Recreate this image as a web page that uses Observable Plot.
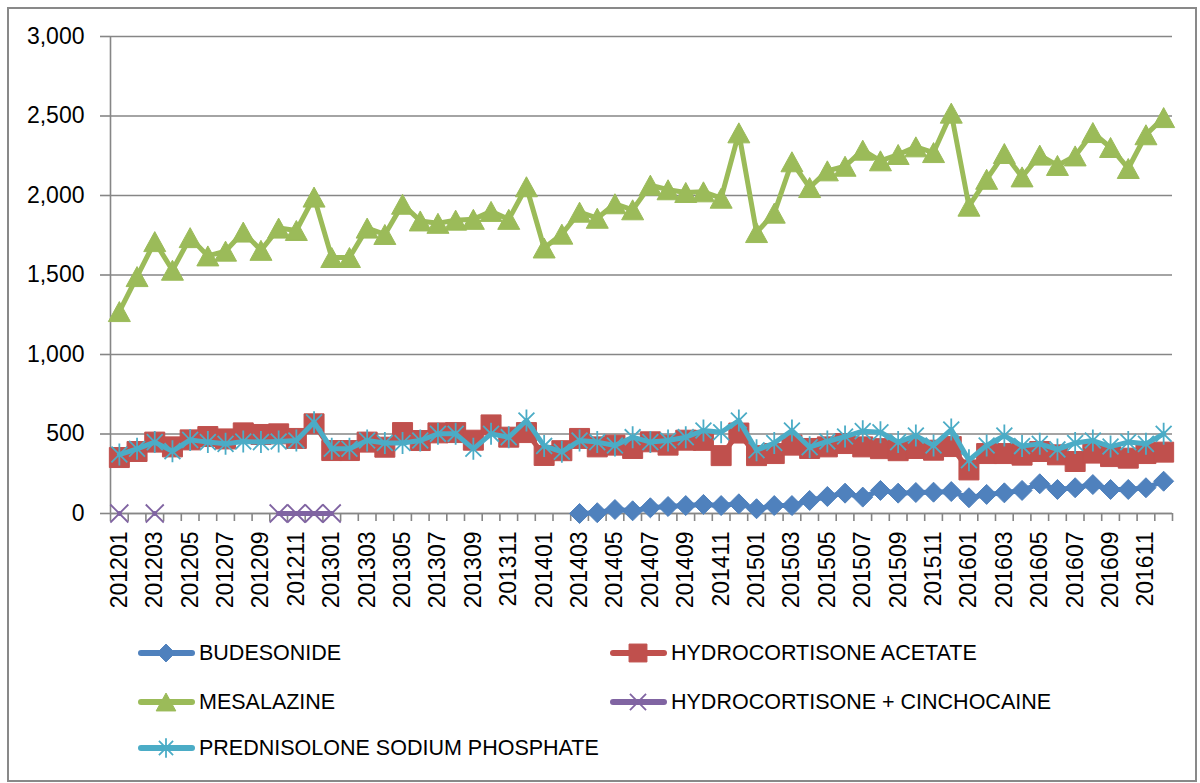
<!DOCTYPE html>
<html><head><meta charset="utf-8">
<script src="https://cdn.jsdelivr.net/npm/d3@7"></script>
<script src="https://cdn.jsdelivr.net/npm/@observablehq/plot@0.6"></script>
<style>
body{margin:0;background:#fff;font-family:"Liberation Sans",Arial,sans-serif;width:1200px;height:783px;overflow:hidden;position:relative;}
#frame{position:absolute;left:7px;top:7px;width:1190px;height:775px;border:2px solid #898989;box-sizing:border-box;}
#chart{position:absolute;left:0;top:0;}
.item{position:absolute;display:flex;align-items:center;font-size:21.5px;color:#000;height:30px;}
.item svg{display:block;margin-right:4px;}
</style></head><body>
<div id="frame"></div>
<div id="chart"></div>
<div id="legend"></div>
<script>
const months = ["201201","201202","201203","201204","201205","201206","201207","201208","201209","201210","201211","201212",
"201301","201302","201303","201304","201305","201306","201307","201308","201309","201310","201311","201312",
"201401","201402","201403","201404","201405","201406","201407","201408","201409","201410","201411","201412",
"201501","201502","201503","201504","201505","201506","201507","201508","201509","201510","201511","201512",
"201601","201602","201603","201604","201605","201606","201607","201608","201609","201610","201611","201612"];

const budesonide = [null,null,null,null,null,null,null,null,null,null,null,null,
null,null,null,null,null,null,null,null,null,null,null,null,
null,null,0,5,25,17,36,44,50,57,50,61,
30,50,50,82,107,128,103,145,128,132,134,138,
99,120,130,145,187,151,162,182,151,151,162,203];

const hydrocortisoneAcetate = [352,390,449,419,463,484,469,507,497,501,472,564,
396,396,449,417,509,459,507,509,461,557,480,509,
365,395,472,419,430,409,451,430,461,460,364,506,
364,377,430,409,419,440,419,408,395,409,398,421,
274,377,377,367,390,369,327,380,358,348,377,386];

const mesalazine = [1270,1490,1710,1530,1735,1620,1650,1770,1655,1795,1780,1990,
1610,1610,1795,1755,1945,1840,1825,1845,1850,1900,1850,2055,
1670,1757,1895,1857,1948,1910,2065,2036,2019,2023,1983,2394,
1767,1889,2212,2050,2155,2184,2285,2218,2258,2306,2270,2518,
1933,2102,2264,2117,2254,2189,2249,2396,2302,2170,2382,2490];

const hydrocortisoneCinchocaine = [0,null,0,null,null,null,null,null,null,0,0,0,
0,null,null,null,null,null,null,null,null,null,null,null,
null,null,null,null,null,null,null,null,null,null,null,null,
null,null,null,null,null,null,null,null,null,null,null,null,
null,null,null,null,null,null,null,null,null,null,null,null];

const prednisolone = [371,407,449,392,463,449,438,453,449,453,459,574,
407,407,459,443,443,459,501,501,407,501,480,585,
425,388,459,449,428,480,449,459,480,522,511,585,
398,443,522,417,453,484,518,511,449,490,428,528,
335,428,490,424,438,403,443,459,421,449,438,501];

const yTicks = [0,500,1000,1500,2000,2500,3000];

const seriesNames = ["BUDESONIDE","HYDROCORTISONE ACETATE","MESALAZINE","HYDROCORTISONE + CINCHOCAINE","PREDNISOLONE SODIUM PHOSPHATE"];
const seriesColors = ["#4F81BD","#C0504D","#9BBB59","#8064A2","#4BACC6"];
const seriesValues = [budesonide, hydrocortisoneAcetate, mesalazine, hydrocortisoneCinchocaine, prednisolone];

// custom marker shapes (Excel-like)
const symTriangle = {draw(c, size){const r=Math.sqrt(size/Math.PI); c.moveTo(0,-r); c.lineTo(r*1.1,r); c.lineTo(-r*1.1,r); c.closePath();}};
const symSquare = {draw(c, size){const r=Math.sqrt(size/Math.PI); c.rect(-r,-r,2*r,2*r);}};
const symDiamond = {draw(c, size){const r=Math.sqrt(size/Math.PI); c.moveTo(0,-r); c.lineTo(r,0); c.lineTo(0,r); c.lineTo(-r,0); c.closePath();}};
const symAsterisk = {draw(c, size){const r=Math.sqrt(size/Math.PI); const d=r*0.72; c.moveTo(0,-r); c.lineTo(0,r); c.moveTo(-d,-d); c.lineTo(d,d); c.moveTo(-d,d); c.lineTo(d,-d);}};
const symTimes = {draw(c, size){const r=Math.sqrt(size/Math.PI); c.moveTo(-r,-r); c.lineTo(r,r); c.moveTo(-r,r); c.lineTo(r,-r);}};
const seriesSymbols = [symDiamond, symSquare, symTriangle, symTimes, symAsterisk];
const seriesFilled = [true, true, true, false, false];
const seriesR = [10, 10, 10, 9, 11];

const rows = seriesNames.map((name, s) => seriesValues[s].map((v, i) => ({i, month: months[i], value: v, series: name})));

const marks = [
  Plot.gridY(yTicks, {stroke: "#868686", strokeOpacity: 1, strokeWidth: 1.6}),
  Plot.ruleX([-0.5], {stroke: "#868686", strokeWidth: 1.6}),
  Plot.ruleY([0], {stroke: "#868686", strokeWidth: 1.6}),
  Plot.axisY({ticks: yTicks, tickFormat: d3.format(","), tickSize: 10, tickPadding: 16, stroke: "#868686", strokeWidth: 1.6, fill: "#000", fontSize: 23, label: null}),
  Plot.axisX({ticks: d3.range(-0.5, 60, 1), tickFormat: () => "", tickSize: 8, stroke: "#868686", strokeWidth: 1.6, label: null}),
  Plot.axisX({ticks: d3.range(0, 60, 2), tickFormat: i => months[i], tickSize: 0, tickPadding: 18, tickRotate: -90, fill: "#000", fontSize: 23, label: null})
];
seriesNames.forEach((name, s) => {
  const data = rows[s];
  marks.push(Plot.line(data, {x: "i", y: "value", stroke: seriesColors[s], strokeWidth: 5, strokeLinejoin: "round", strokeLinecap: "round"}));
  const defined = data.filter(d => d.value != null);
  if (seriesFilled[s]) {
    marks.push(Plot.dot(defined, {x: "i", y: "value", r: seriesR[s], symbol: seriesSymbols[s], fill: seriesColors[s], stroke: seriesColors[s], strokeWidth: 1}));
  } else {
    marks.push(Plot.dot(defined, {x: "i", y: "value", r: seriesR[s], symbol: seriesSymbols[s], fill: "none", stroke: seriesColors[s], strokeWidth: 1.8}));
  }
});

const chart = Plot.plot({
  width: 1200,
  height: 625,
  marginLeft: 110,
  marginRight: 28,
  marginTop: 36,
  marginBottom: 112,
  x: {type: "linear", domain: [-0.5, 59.5], label: null},
  y: {domain: [0, 3000], label: null},
  style: {fontFamily: "Liberation Sans, Arial, sans-serif", fontSize: "23px", background: "transparent", color: "#000"},
  marks
});
document.getElementById("chart").appendChild(chart);

// legend
const legendPos = [[138, 653], [610, 653], [138, 702], [610, 702], [138, 748]];
const legend = document.getElementById("legend");
seriesNames.forEach((name, s) => {
  const [lx, ly] = legendPos[s];
  const div = document.createElement("div");
  div.className = "item";
  div.style.left = lx + "px";
  div.style.top = (ly - 15) + "px";
  const svg = d3.create("svg").attr("width", 57).attr("height", 30);
  svg.append("line").attr("x1", 3).attr("x2", 54).attr("y1", 15).attr("y2", 15)
    .attr("stroke", seriesColors[s]).attr("stroke-width", 6).attr("stroke-linecap", "round");
  const p = d3.path();
  seriesSymbols[s].draw(p, Math.PI * seriesR[s] * seriesR[s] * 0.8);
  svg.append("path").attr("d", p.toString()).attr("transform", "translate(28,15)")
    .attr("fill", seriesFilled[s] ? seriesColors[s] : "none")
    .attr("stroke", seriesColors[s]).attr("stroke-width", seriesFilled[s] ? 1 : 1.8);
  div.appendChild(svg.node());
  const span = document.createElement("span");
  span.textContent = name;
  div.appendChild(span);
  legend.appendChild(div);
});
</script>
</body></html>
